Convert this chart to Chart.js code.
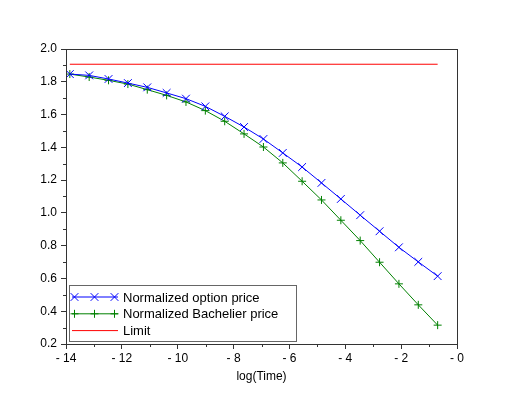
<!DOCTYPE html>
<html>
<head>
<meta charset="utf-8">
<script src="https://cdn.jsdelivr.net/npm/chart.js@4"></script>
<style>
    body { margin: 0; background: #fff; }
    #wrap { width: 523px; height: 394px; }
</style>
</head>
<body>
<div id="wrap"><canvas id="priceChart" width="523" height="394"></canvas></div>
<script>
// log(Time) sample points
const logTime = [-13.863, -13.170, -12.477, -11.784, -11.090, -10.397, -9.704, -9.011, -8.318, -7.625,
                 -6.931, -6.238, -5.545, -4.852, -4.159, -3.466, -2.773, -2.079, -1.386, -0.693];
const optionPrice = [1.847, 1.839, 1.817, 1.792, 1.766, 1.732, 1.697, 1.650, 1.589, 1.524,
                     1.451, 1.366, 1.280, 1.183, 1.085, 0.986, 0.888, 0.790, 0.701, 0.614];
const bachelierPrice = [1.847, 1.829, 1.809, 1.786, 1.752, 1.717, 1.677, 1.624, 1.559, 1.482,
                        1.402, 1.305, 1.193, 1.079, 0.955, 0.831, 0.699, 0.567, 0.439, 0.315];
const limitX = [-13.863, -0.693];
const limitY = [1.907, 1.907];
const seriesNames = ["Normalized option price", "Normalized Bachelier price", "Limit"];

const FONT = "'Liberation Sans', Arial, sans-serif";
Chart.defaults.font.family = FONT;
Chart.defaults.color = "#000";

function toPoints(xs, ys) {
    return xs.map((x, i) => ({ x: x, y: ys[i] }));
}

// full frame around the plot area + short minor ticks
const framePlugin = {
    id: "frame",
    afterDraw(chart) {
        const { ctx, chartArea: a, scales } = chart;
        ctx.save();
        ctx.strokeStyle = "#333";
        ctx.lineWidth = 1;
        ctx.strokeRect(Math.round(a.left) + 0.5, Math.round(a.top) + 0.5,
            Math.round(a.right - a.left), Math.round(a.bottom - a.top));
        // minor ticks (odd steps) are shorter than the labelled ones
        ctx.beginPath();
        scales.x.ticks.forEach((t) => {
            if (t.value % 2 !== 0) {
                const px = Math.round(scales.x.getPixelForValue(t.value)) + 0.5;
                ctx.moveTo(px, Math.round(a.bottom));
                ctx.lineTo(px, Math.round(a.bottom) + 3);
            }
        });
        scales.y.ticks.forEach((t) => {
            if (Math.round(t.value * 10) % 2 !== 0) {
                const py = Math.round(scales.y.getPixelForValue(t.value)) + 0.5;
                ctx.moveTo(Math.round(a.left) - 3, py);
                ctx.lineTo(Math.round(a.left), py);
            }
        });
        ctx.stroke();
        ctx.restore();
    },
};

// boxed legend in the lower left corner of the plot
const boxLegendPlugin = {
    id: "boxLegend",
    afterDraw(chart) {
        const ctx = chart.ctx;
        const bx = 69.5, by = 285.5, bw = 227, bh = 56;
        ctx.save();
        ctx.fillStyle = "#fff";
        ctx.fillRect(bx, by, bw, bh);
        ctx.strokeStyle = "#666";
        ctx.lineWidth = 1;
        ctx.strokeRect(bx, by, bw, bh);
        chart.data.datasets.forEach((ds, i) => {
            const y = 297 + i * 16.8;
            ctx.strokeStyle = ds.borderColor;
            ctx.lineWidth = 1;
            ctx.beginPath();
            ctx.moveTo(72, y);
            ctx.lineTo(118, y);
            ctx.stroke();
            if (ds.pointStyle && ds.pointRadius > 0) {
                [74.5, 94.5, 114.5].forEach((mx) => {
                    Chart.helpers.drawPoint(ctx, {
                        pointStyle: ds.pointStyle,
                        radius: ds.pointRadius,
                        borderWidth: 1,
                        rotation: 0,
                    }, mx, y);
                });
            }
            ctx.fillStyle = "#000";
            ctx.font = "13px " + FONT;
            ctx.textBaseline = "middle";
            ctx.textAlign = "left";
            ctx.fillText(ds.label, 123, y + 1);
        });
        ctx.restore();
    },
};

const ctx = document.getElementById("priceChart").getContext("2d");
new Chart(ctx, {
    type: "line",
    data: {
        datasets: [
            {
                label: seriesNames[0],
                data: toPoints(logTime, optionPrice),
                borderColor: "#0000ff",
                backgroundColor: "#0000ff",
                borderWidth: 1,
                pointStyle: "crossRot",
                pointRadius: 5.5,
                pointBorderWidth: 1,
                tension: 0,
            },
            {
                label: seriesNames[1],
                data: toPoints(logTime, bachelierPrice),
                borderColor: "#008000",
                backgroundColor: "#008000",
                borderWidth: 1,
                pointStyle: "cross",
                pointRadius: 4,
                pointBorderWidth: 1,
                tension: 0,
            },
            {
                label: seriesNames[2],
                data: toPoints(limitX, limitY),
                borderColor: "#ff0000",
                backgroundColor: "#ff0000",
                borderWidth: 1,
                pointRadius: 0,
                tension: 0,
            },
        ],
    },
    options: {
        responsive: false,
        animation: false,
        layout: { padding: { left: 0, right: 66, top: 49, bottom: 0 } },
        plugins: {
            legend: { display: false },
            tooltip: { enabled: false },
        },
        scales: {
            x: {
                type: "linear",
                min: -14,
                max: 0,
                afterFit: (scale) => { scale.height = 50; },
                border: { color: "#333" },
                grid: {
                    drawOnChartArea: false,
                    tickLength: 5,
                    // odd ticks are drawn shorter by the frame plugin
                    tickColor: (c) => (c.tick && c.tick.value % 2 === 0 ? "#333" : "rgba(0,0,0,0)"),
                },
                ticks: {
                    stepSize: 1,
                    autoSkip: false,
                    maxRotation: 0,
                    padding: 2,
                    font: { size: 12 },
                    callback: (v) => (v % 2 === 0 ? "- " + Math.abs(v) : ""),
                },
                title: {
                    display: true,
                    text: "log(Time)",
                    font: { size: 12 },
                    padding: { top: 0, bottom: 10 },
                },
            },
            y: {
                type: "linear",
                min: 0.2,
                max: 2.0,
                afterFit: (scale) => { scale.width = 66; },
                border: { color: "#333" },
                grid: {
                    drawOnChartArea: false,
                    tickLength: 5,
                    tickColor: (c) => (c.tick && Math.round(c.tick.value * 10) % 2 === 0 ? "#333" : "rgba(0,0,0,0)"),
                },
                ticks: {
                    stepSize: 0.1,
                    autoSkip: false,
                    padding: 4,
                    font: { size: 12 },
                    callback: (v) => (Math.round(v * 10) % 2 === 0 ? v.toFixed(1) : ""),
                },
            },
        },
    },
    plugins: [framePlugin, boxLegendPlugin],
});
</script>
</body>
</html>
